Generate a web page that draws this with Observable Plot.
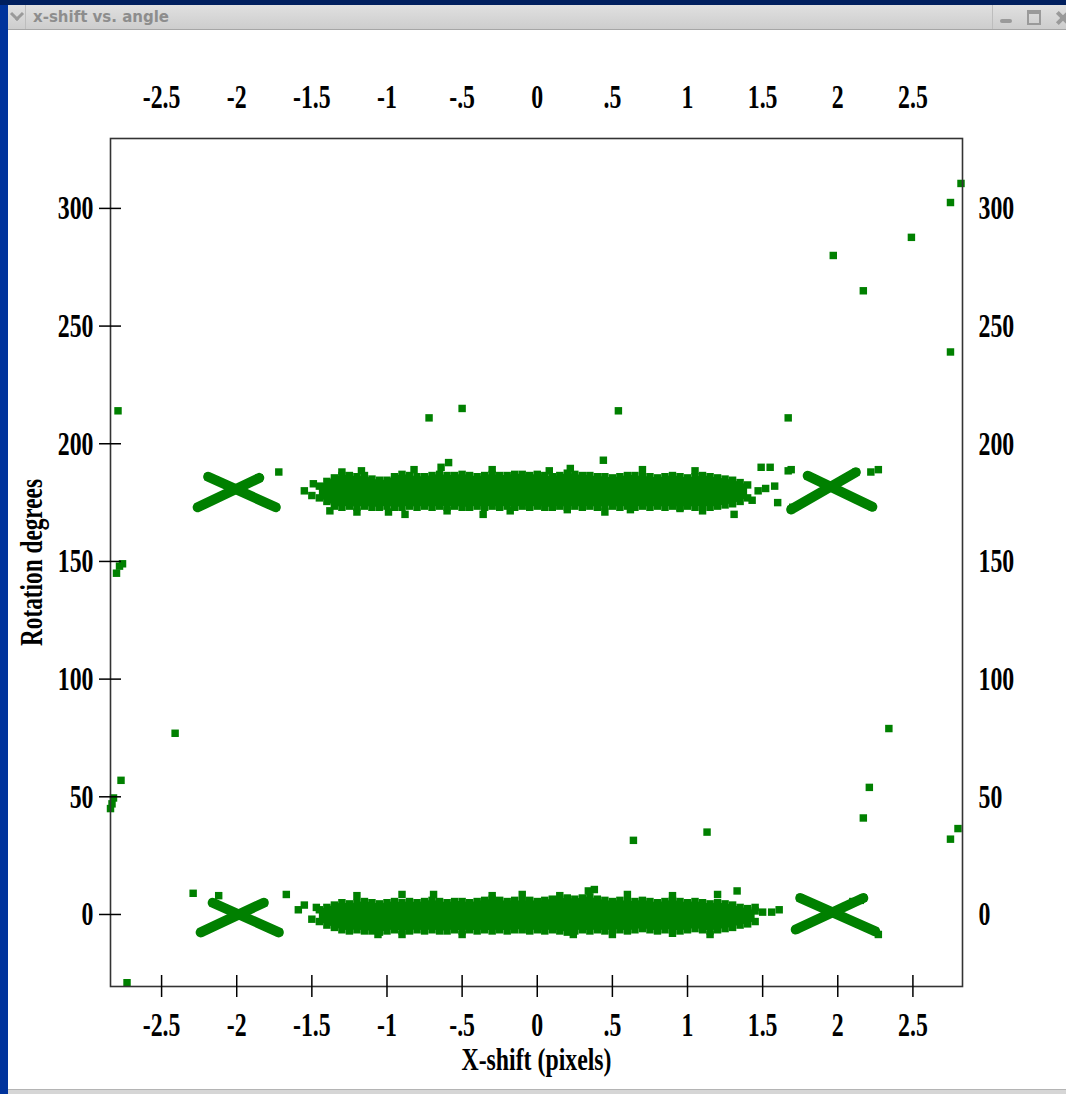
<!DOCTYPE html>
<html><head><meta charset="utf-8">
<script src="https://cdn.jsdelivr.net/npm/d3@7"></script>
<script src="https://cdn.jsdelivr.net/npm/@observablehq/plot@0.6"></script>
<style>
html,body{margin:0;padding:0;width:1066px;height:1094px;overflow:hidden;background:#fff;}
#topstrip{position:absolute;left:0;top:0;width:1066px;height:5px;background:#001f5e;}
#leftborder{position:absolute;left:0;top:0;width:8px;height:1094px;background:#00339c;}
#titlebar{position:absolute;left:8px;top:5px;width:1058px;height:24px;background:linear-gradient(#e0e0e0,#cdcdcd);border-bottom:1px solid #a6a6a6;}
#chev{position:absolute;left:4px;top:4px;width:7px;height:7px;border-right:3px solid #9a9a9a;border-bottom:3px solid #9a9a9a;transform:rotate(45deg);}
#sep1{position:absolute;left:17px;top:0;width:1px;height:24px;background:#bdbdbd;}
#sep2{position:absolute;left:984px;top:0;width:1px;height:24px;background:#bdbdbd;}
#title{position:absolute;left:25px;top:3px;font:bold 15px "DejaVu Sans",sans-serif;color:#8d8d8d;}
#min{position:absolute;left:992px;top:14px;width:12px;height:4px;background:#9a9a9a;border-radius:2px;}
#max{position:absolute;left:1019px;top:5px;width:10px;height:9px;border:2px solid #9a9a9a;border-top-width:4px;}
.xb{position:absolute;left:1047px;top:11px;width:16px;height:4px;background:#9a9a9a;}
#chart{position:absolute;left:8px;top:30px;}
#bottom{position:absolute;left:8px;top:1089px;width:1058px;height:5px;background:#d6d6d6;border-top:1px solid #b4b4b4;}
</style>
</head><body>
<div id="leftborder"></div>
<div id="topstrip"></div>
<div id="titlebar"><div id="chev"></div><div id="sep1"></div><div id="title">x-shift vs. angle</div><div id="sep2"></div><div id="min"></div><div id="max"></div><div class="xb" style="transform:rotate(45deg)"></div><div class="xb" style="transform:rotate(-45deg)"></div></div>
<div id="chart"></div>
<div id="bottom"></div>
<script>
const green = "#008000";

// tick values and labels
const xTicks = [-2.5, -2, -1.5, -1, -0.5, 0, 0.5, 1, 1.5, 2, 2.5];
const xTickLabels = ["-2.5", "-2", "-1.5", "-1", "-.5", "0", ".5", "1", "1.5", "2", "2.5"];
const yTicks = [0, 50, 100, 150, 200, 250, 300];

// dense band near 180 degrees: x and the lower/upper edge of the cloud
const upperX = [-1.45,-1.40,-1.35,-1.30,-1.25,-1.20,-1.15,-1.10,-1.05,-1.00,-0.95,-0.90,-0.85,-0.80,-0.75,-0.70,-0.65,-0.60,-0.55,-0.50,-0.45,-0.40,-0.35,-0.30,-0.25,-0.20,-0.15,-0.10,-0.05,0.00,0.05,0.10,0.15,0.20,0.25,0.30,0.35,0.40,0.45,0.50,0.55,0.60,0.65,0.70,0.75,0.80,0.85,0.90,0.95,1.00,1.05,1.10,1.15,1.20,1.25,1.30,1.35,1.40];
const upperHi = [182,184,185.5,186.5,186.5,186,186.5,185,184.5,184.5,186,187,186.5,186,186,186.5,187,186.5,186.5,187,186.5,186,186.5,187,186.5,186.5,187,187,186.5,187,186.5,186,186.5,187.5,187,186.5,186.5,186,186,185.5,186,186.5,186.5,186,186,185.5,186,186.5,186,185.5,186,186.5,186,185.5,185,184.5,183.5,182.5];
const upperLo = [177,175.5,173.5,173,173.5,173,173.5,173,173,173.5,173,173,173.5,173,173.5,173,173.5,173,173.5,173,173,173.5,173,173.5,173,173.5,173,173.5,173,173.5,173,173,173.5,173,173.5,173,173.5,173,173.5,173.5,173,173.5,173,173.5,173,173.5,173,173.5,173,173.5,173,173.5,173,173.5,174,174.5,175.5,177];

// dense band near 0 degrees
const lowerX = [-1.45,-1.40,-1.35,-1.30,-1.25,-1.20,-1.15,-1.10,-1.05,-1.00,-0.95,-0.90,-0.85,-0.80,-0.75,-0.70,-0.65,-0.60,-0.55,-0.50,-0.45,-0.40,-0.35,-0.30,-0.25,-0.20,-0.15,-0.10,-0.05,0.00,0.05,0.10,0.15,0.20,0.25,0.30,0.35,0.40,0.45,0.50,0.55,0.60,0.65,0.70,0.75,0.80,0.85,0.90,0.95,1.00,1.05,1.10,1.15,1.20,1.25,1.30,1.35,1.40,1.45];
const lowerHi = [2,3,4,5,4.5,5,5.5,5,4.5,5,5.5,5,5.5,5,5.5,6,5.5,5,5.5,5.5,5,5.5,6,6.5,6,5.5,6,5.5,6,5.5,6,6.5,6.5,7,6.5,7,7.5,6.5,6,5.5,6,5.5,5.5,6,5.5,5,5.5,6,5.5,5,5.5,5,4.5,5,4.5,4,3,2.5,1.5];
const lowerLo = [-3,-4.5,-5.5,-6.5,-7,-6.5,-7,-7,-7.5,-7,-6.5,-7,-7,-6.5,-7,-6.5,-7,-7,-6.5,-7,-6.5,-7,-6.5,-7,-6.5,-7,-6.5,-6.5,-7,-6.5,-7,-6.5,-7,-7.5,-7,-6.5,-7,-6.5,-7,-6.5,-6.5,-7,-6.5,-6,-6.5,-7,-6.5,-6.5,-7,-6.5,-6,-6.5,-7,-6.5,-6,-5.5,-4.5,-4,-3];

// "X" shaped clusters at x = -2 and x = 2: arm end points
const armX1 = [-2.19,-1.85, 1.80, 2.12, -2.16,-1.82, 1.75, 2.17];
const armY1 = [186,185.5, 186.4, 187.9, 5, 5, 7, 7];
const armX2 = [-1.74,-2.26, 2.23, 1.69, -1.72,-2.24, 2.25, 1.72];
const armY2 = [173,173, 173.2, 172.1, -7.6,-7.6, -7.2, -6.4];

// individual scattered points
const pointX = [2.82,2.75,1.97,2.17,2.49,2.75,-2.79,-0.72,-0.50,0.54,1.67,-2.80,-2.78,-2.76,-2.41,2.34,-2.77,-2.82,-2.83,-2.84,2.21,2.17,2.80,2.75,0.64,1.13,-2.73,2.27,
 -1.72,-1.49,-1.55,-1.50,-0.64,-0.59,0.44,-0.99,-0.88,-0.36,1.31,-0.18,0.20,0.62,0.95,1.49,1.55,1.47,1.52,1.58,1.43,1.69,1.67,1.70,1.60,-1.30,-1.17,-0.82,-0.30,0.08,0.22,0.70,1.05,-1.38,-1.20,-0.60,0.45,1.10,2.22,2.27,
 -2.29,-2.12,-1.67,-1.59,-1.55,-1.47,-1.42,-1.50,-0.69,-0.30,0.34,0.38,1.33,1.56,1.61,0.24,-1.06,-0.90,-0.50,0.50,0.90,1.15,-1.20,-0.90,-0.10,0.15,0.60,0.90,1.20,1.45,1.50,2.10,2.15];
const pointY = [310.6,302.5,280,265,287.7,239,214,211,215,214,211,145,148,149,77,79,57,49.5,47,45,54,41,36.5,32,31.5,35,-29,-8.5,
 188,183,180,178,190,192,193,171,170,170,170,171.5,172,172,172.5,190,190,180,181,182,176,189,188.5,173,175,188,188.5,189,189,188.5,189.5,189,188.5,171.5,171,171.5,171,171.5,188,189,
 9,8,8.5,2,4,3,0,-2,8.5,8,10,10.6,10,1,2,-8.5,-8.5,-8.5,-8.5,-8.5,-8,-8.5,8,8.5,8.5,8,8.5,8,8.5,3,1,5.5,6];

const upperBand = upperX.map((x, i) => ({x, lo: upperLo[i], hi: upperHi[i]}));
const lowerBand = lowerX.map((x, i) => ({x, lo: lowerLo[i], hi: lowerHi[i]}));
const arms = armX1.map((x1, i) => ({x1, y1: armY1[i], x2: armX2[i], y2: armY2[i]}));
const points = pointX.map((x, i) => ({x, y: pointY[i]}));
const xLabel = new Map(xTicks.map((t, i) => [t, xTickLabels[i]]));

const dotOpts = {symbol: "square", r: 4.2, fill: green};

const plot = Plot.plot({
  width: 1058, height: 1060,
  marginLeft: 102, marginRight: 104, marginTop: 108, marginBottom: 104,
  x: {domain: [-2.84, 2.83]},
  y: {domain: [-30.6, 329.7]},
  style: {fontFamily: "'Liberation Serif', serif", fontSize: "34px", fontWeight: "bold", color: "#000", background: "transparent", overflow: "visible"},
  marks: [
    Plot.areaY(upperBand, {x: "x", y1: "lo", y2: "hi", fill: green}),
    Plot.areaY(lowerBand, {x: "x", y1: "lo", y2: "hi", fill: green}),
    Plot.dot(upperBand, {x: "x", y: "hi", ...dotOpts}),
    Plot.dot(upperBand, {x: "x", y: "lo", ...dotOpts}),
    Plot.dot(lowerBand, {x: "x", y: "hi", ...dotOpts}),
    Plot.dot(lowerBand, {x: "x", y: "lo", ...dotOpts}),
    Plot.link(arms, {x1: "x1", y1: "y1", x2: "x2", y2: "y2", stroke: green, strokeWidth: 10, strokeLinecap: "round"}),
    Plot.dot(arms, {x: "x1", y: "y1", ...dotOpts}),
    Plot.dot(arms, {x: "x2", y: "y2", ...dotOpts}),
    Plot.dot(points, {x: "x", y: "y", ...dotOpts}),
    Plot.frame({stroke: "#333", strokeWidth: 1.6}),
    Plot.axisY(yTicks, {anchor: "left", tickSize: 22, dx: 11, tickPadding: 6, strokeWidth: 1.5, label: null}),
    Plot.axisY(yTicks, {anchor: "right", tickSize: 0, tickPadding: 16, label: null}),
    Plot.axisX(xTicks, {anchor: "bottom", tickSize: 22, dy: -11, tickPadding: 14, strokeWidth: 1.5, tickFormat: d => xLabel.get(d), label: null}),
    Plot.axisX(xTicks, {anchor: "top", tickSize: 0, tickPadding: 31, tickFormat: d => xLabel.get(d), label: null}),
    Plot.text(["X-shift (pixels)"], {frameAnchor: "bottom", dy: 73, lineAnchor: "middle", textAnchor: "middle", fontSize: 32, fontWeight: "bold", fill: "#000"}),
    Plot.text(["Rotation degrees"], {frameAnchor: "left", dx: -79, rotate: -90, lineAnchor: "middle", textAnchor: "middle", fontSize: 32, fontWeight: "bold", fill: "#000"})
  ]
});
document.getElementById("chart").appendChild(plot);

// condense the serif lettering like the original
plot.querySelectorAll("text").forEach(t => {
  const s = t.textContent;
  let len;
  if (s === "X-shift (pixels)") len = 150;
  else if (s === "Rotation degrees") len = 167;
  else len = t.getComputedTextLength() * 0.7;
  t.setAttribute("textLength", len);
  t.setAttribute("lengthAdjust", "spacingAndGlyphs");
});
</script>
</body></html>
